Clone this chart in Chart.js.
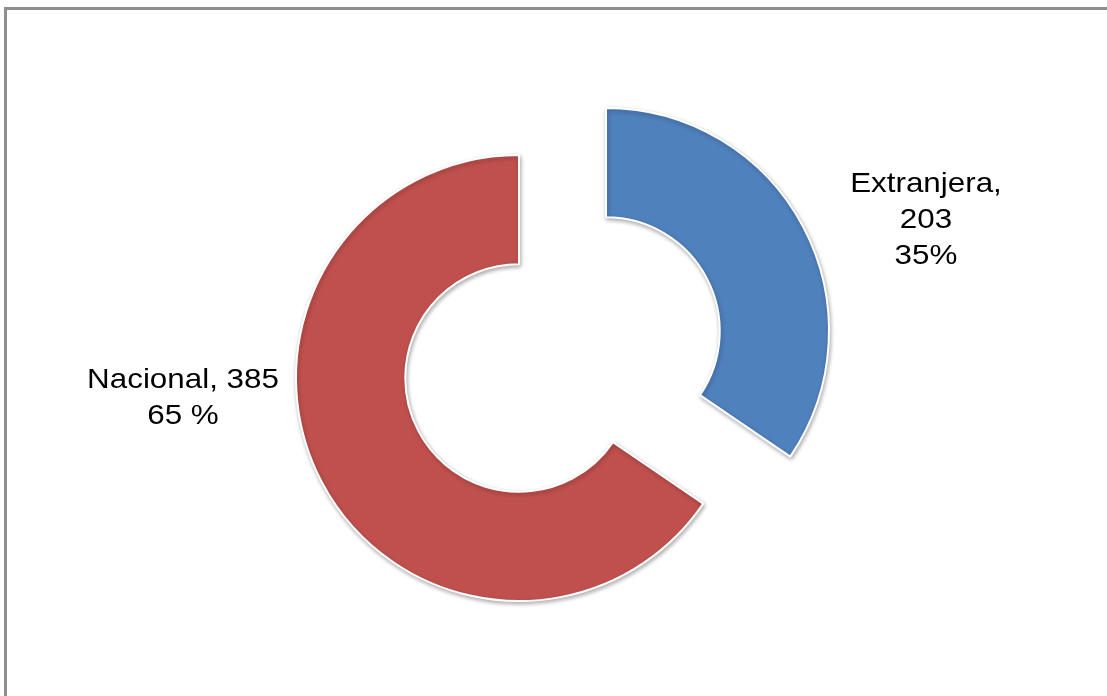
<!DOCTYPE html>
<html>
<head>
<meta charset="utf-8">
<script src="https://cdn.jsdelivr.net/npm/chart.js@4/dist/chart.umd.min.js"></script>
<style>
    html, body { margin: 0; padding: 0; background: #fff; overflow: hidden; }
    #marco {
        position: absolute; left: 4px; top: 7px;
        width: 1200px; height: 800px;
        border: 3px solid #8e8e8e; box-sizing: border-box;
    }
    .capa { position: absolute; left: 0; top: 0; width: 1107px; height: 696px; }
</style>
</head>
<body>
<div id="marco"></div>
<div class="capa"><canvas id="graficoExt"></canvas></div>
<div class="capa"><canvas id="graficoNac"></canvas></div>
<script>
// DATOS
const categorias = ['Extranjera', 'Nacional'];
const valores = [203, 385];
const porcentajes = ['35%', '65 %'];
const colores = ['#4F81BD', '#C0504D'];

// texto de cada etiqueta (Extranjera en tres líneas, Nacional en dos)
function lineasEtiqueta(i) {
    if (i === 0) return [categorias[0] + ',', String(valores[0]), porcentajes[0]];
    return [categorias[1] + ', ' + valores[1], porcentajes[1]];
}

// --- ETIQUETAS ---
const etiquetaPlugin = {
    id: 'etiqueta',
    afterDatasetsDraw(chart, args, opts) {
        const arc = chart.getDatasetMeta(0).data[opts.indice];
        const ctx = chart.ctx;
        const lineas = lineasEtiqueta(opts.indice);
        ctx.save();
        ctx.font = '28px "Liberation Sans", Arial, sans-serif';
        ctx.fillStyle = '#000';
        ctx.textAlign = 'center';
        ctx.textBaseline = 'middle';
        lineas.forEach((txt, k) => {
            const x = arc.x + opts.dx;
            const y = arc.y + opts.dy + k * 36;
            ctx.save();
            ctx.translate(x, y);
            ctx.scale(1.12, 1);
            ctx.fillText(txt, 0, 0);
            ctx.restore();
        });
        ctx.restore();
    }
};

// sombra suave de los sectores
const sombraPlugin = {
    id: 'sombra',
    beforeDatasetsDraw(chart) {
        const ctx = chart.ctx;
        ctx.save();
        ctx.shadowColor = 'rgba(0,0,0,0.3)';
        ctx.shadowBlur = 4;
        ctx.shadowOffsetX = 1;
        ctx.shadowOffsetY = 2;
    },
    afterDatasetsDraw(chart) {
        chart.ctx.restore();
    }
};

// cada sector se dibuja en su propio gráfico para separarlos (efecto "explotado")
function crearGrafico(id, indice, padding, dx, dy) {
    const fondo = colores.map((c, i) => i === indice ? c : 'rgba(0,0,0,0)');
    const borde = colores.map((c, i) => i === indice ? '#ffffff' : 'rgba(0,0,0,0)');
    return new Chart(document.getElementById(id), {
        type: 'doughnut',
        data: {
            labels: categorias,
            datasets: [{
                data: valores,
                backgroundColor: fondo,
                borderColor: borde,
                borderWidth: 2
            }]
        },
        options: {
            responsive: true,
            maintainAspectRatio: false,
            animation: false,
            radius: 223,
            cutout: '51%',
            layout: { padding: padding },
            plugins: {
                legend: { display: false },
                tooltip: { enabled: false },
                etiqueta: { indice: indice, dx: dx, dy: dy }
            }
        },
        plugins: [sombraPlugin, etiquetaPlugin]
    });
}

crearGrafico('graficoExt', 0, { left: 105, right: 0, top: 0, bottom: 34 }, 320, -147);
crearGrafico('graficoNac', 1, { left: 0, right: 69, top: 60, bottom: 0 }, -336, 2);
</script>
</body>
</html>
